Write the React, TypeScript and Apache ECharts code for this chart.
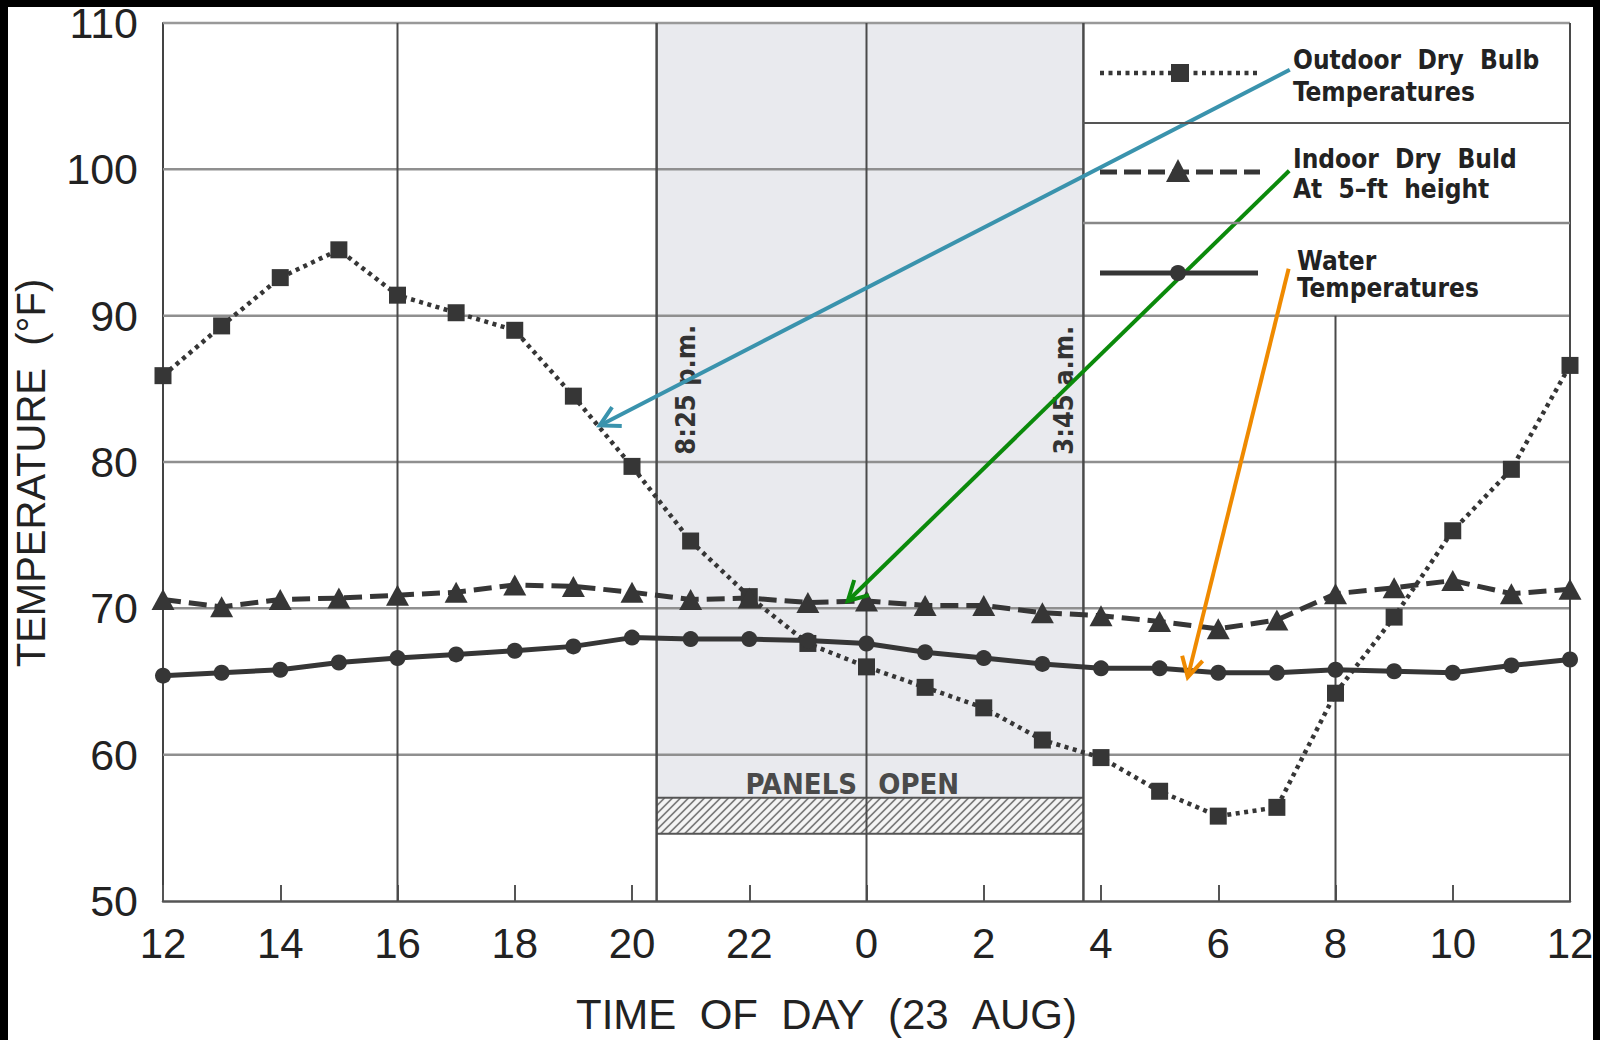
import React, { useEffect, useRef } from 'react';
import * as echarts from 'echarts';

// Hours after 12:00 noon (0 = noon, 12 = midnight, 24 = next noon), 23 AUG
const hoursFromNoon = [0, 1, 2, 3, 4, 5, 6, 7, 8, 9, 10, 11, 12, 13, 14, 15, 16, 17, 18, 19, 20, 21, 22, 23, 24];
const xTickLabels = ['12', '14', '16', '18', '20', '22', '0', '2', '4', '6', '8', '10', '12'];

const outdoorDryBulb = [85.9, 89.3, 92.6, 94.5, 91.4, 90.2, 89.0, 84.5, 79.7, 74.6, 70.8, 67.6, 66.0, 64.6, 63.2, 61.0, 59.8, 57.5, 55.8, 56.4, 64.2, 69.4, 75.3, 79.5, 86.6];
const indoorDryBulb = [70.6, 70.1, 70.6, 70.7, 70.9, 71.1, 71.6, 71.5, 71.1, 70.6, 70.7, 70.4, 70.5, 70.2, 70.2, 69.7, 69.5, 69.1, 68.6, 69.2, 71.0, 71.4, 71.9, 71.0, 71.3];
const waterTemp = [65.4, 65.6, 65.8, 66.3, 66.6, 66.85, 67.1, 67.4, 68.0, 67.9, 67.9, 67.8, 67.6, 67.0, 66.6, 66.2, 65.9, 65.9, 65.6, 65.6, 65.8, 65.7, 65.6, 66.1, 66.5];

// Panels open window: 8:25 p.m. -> 3:45 a.m. (hours after noon)
const panelsOpenWindow = [8.42, 15.7];
const panelsBar = [54.6, 57.05]; // °F band of the hatched bar
const panelLabels = ['8:25 p.m.', '3:45 a.m.'];

const yGridValues = [60, 70, 80, 90, 100, 110];
const fullVerticalGrid = [4, 12, 24];
const partialVerticalGrid = [20];

// Annotation arrows (tail in legend -> tip on curve), data coordinates
const arrowTails = [[19.22, 106.8], [19.21, 99.9], [19.2, 93.2]];
const arrowTips = [[7.45, 82.5], [11.68, 70.5], [17.48, 65.3]];
const arrowColors = ['#3a93ad', '#0b8a0b', '#ef8a00'];

const INK = '#363636';
const TXT = '#222';
const LEG_FONT = "'DejaVu Sans Condensed', 'Liberation Sans Narrow', 'DejaVu Sans', sans-serif";

function lineSeries(name: string, vals: number[], symbol: string, symbolSize: any, type: any, width: number) {
  return {
    type: 'line',
    name,
    data: hoursFromNoon.map((h, i) => [h, vals[i]]),
    symbol,
    symbolSize,
    showSymbol: true,
    z: 3,
    silent: true,
    lineStyle: { color: INK, width, type, cap: 'butt' },
    itemStyle: { color: INK },
  };
}

export default function App() {
  const ref = useRef<HTMLDivElement>(null);
  useEffect(() => {
    const chart = echarts.init(ref.current!, null, { renderer: 'svg' });

    const decor = {
      type: 'custom',
      z: 1,
      silent: true,
      clip: false,
      data: [[0, 50]],
      encode: { x: 0, y: 1 },
      renderItem: (_p: any, api: any) => {
        const c = (x: number, y: number) => api.coord([x, y]);
        const ch: any[] = [];
        const [ps, pe] = panelsOpenWindow;
        // shaded region
        const a = c(ps, 110);
        const b = c(pe, panelsBar[1]);
        ch.push({ type: 'rect', shape: { x: a[0], y: a[1], width: b[0] - a[0], height: b[1] - a[1] }, style: { fill: '#e9eaee' } });
        // hatched bar
        const h0 = c(ps, panelsBar[1]);
        const h1 = c(pe, panelsBar[0]);
        const x0 = h0[0], yT = h0[1], x1 = h1[0], yB = h1[1];
        ch.push({ type: 'rect', shape: { x: x0, y: yT, width: x1 - x0, height: yB - yT }, style: { fill: '#f4f4f4' } });
        for (let cc = x0 + yT; cc <= x1 + yB; cc += 8) {
          const xs = Math.max(x0, cc - yB);
          const xe = Math.min(x1, cc - yT);
          if (xe > xs) {
            ch.push({ type: 'line', shape: { x1: xs, y1: cc - xs, x2: xe, y2: cc - xe }, style: { stroke: '#7a7a7a', lineWidth: 1.6 } });
          }
        }
        ch.push({ type: 'line', shape: { x1: x0, y1: yT, x2: x1, y2: yT }, style: { stroke: '#555', lineWidth: 2 } });
        ch.push({ type: 'line', shape: { x1: x0, y1: yB, x2: x1, y2: yB }, style: { stroke: '#555', lineWidth: 2 } });
        // horizontal grid
        yGridValues.forEach((v) => {
          const endX = v > 90 && v < 110 ? pe : 24;
          const p = c(0, v), q = c(endX, v);
          ch.push({ type: 'line', shape: { x1: p[0], y1: p[1], x2: q[0], y2: q[1] }, style: { stroke: v === 110 ? '#999' : '#8f8f8f', lineWidth: 2.5 } });
        });
        // vertical grid
        fullVerticalGrid.forEach((h) => {
          const p = c(h, 50), q = c(h, 110);
          ch.push({ type: 'line', shape: { x1: p[0], y1: p[1], x2: q[0], y2: q[1] }, style: { stroke: '#4a4a4a', lineWidth: 2 } });
        });
        partialVerticalGrid.forEach((h) => {
          const p = c(h, 50), q = c(h, 90);
          ch.push({ type: 'line', shape: { x1: p[0], y1: p[1], x2: q[0], y2: q[1] }, style: { stroke: '#4a4a4a', lineWidth: 2 } });
        });
        [ps, pe].forEach((h) => {
          const p = c(h, 50), q = c(h, 110);
          ch.push({ type: 'line', shape: { x1: p[0], y1: p[1], x2: q[0], y2: q[1] }, style: { stroke: '#4a4a4a', lineWidth: 2.5 } });
        });
        // rotated time labels
        const t1 = c(ps + 0.5, 80.5);
        const t2 = c(pe - 0.34, 80.5);
        [[t1, panelLabels[0]], [t2, panelLabels[1]]].forEach(([pt, txt]: any) => {
          ch.push({
            type: 'text', x: pt[0], y: pt[1], rotation: Math.PI / 2,
            style: { x: 0, y: 0, text: txt, fill: '#333', font: `bold 27px ${LEG_FONT}`, textAlign: 'left', align: 'left', textVerticalAlign: 'middle', verticalAlign: 'middle' },
          });
        });
        // PANELS OPEN
        const pl = c(11.84, 58.0), po = c(12.2, 58.0);
        const pf = `bold 29px 'Liberation Sans Narrow', 'DejaVu Sans Condensed', sans-serif`;
        ch.push({ type: 'text', x: pl[0], y: pl[1], style: { x: 0, y: 0, text: 'PANELS', fill: '#4a4a4a', font: pf, textAlign: 'right', align: 'right', textVerticalAlign: 'middle', verticalAlign: 'middle' } });
        ch.push({ type: 'text', x: po[0], y: po[1], style: { x: 0, y: 0, text: 'OPEN', fill: '#4a4a4a', font: pf, textAlign: 'left', align: 'left', textVerticalAlign: 'middle', verticalAlign: 'middle' } });
        return { type: 'group', children: ch };
      },
    };

    const arrows = {
      type: 'custom',
      z: 20,
      silent: true,
      clip: false,
      data: arrowTails.map((t, i) => [t[0], t[1], arrowTips[i][0], arrowTips[i][1], i]),
      encode: { x: [0, 2], y: [1, 3] },
      renderItem: (_p: any, api: any) => {
        const p1 = api.coord([api.value(0), api.value(1)]);
        const p2 = api.coord([api.value(2), api.value(3)]);
        const col = arrowColors[api.value(4)];
        const ang = Math.atan2(p1[1] - p2[1], p1[0] - p2[0]);
        const L = 22, spread = 0.5;
        const a1 = [p2[0] + L * Math.cos(ang + spread), p2[1] + L * Math.sin(ang + spread)];
        const a2 = [p2[0] + L * Math.cos(ang - spread), p2[1] + L * Math.sin(ang - spread)];
        return {
          type: 'group',
          children: [
            { type: 'line', shape: { x1: p1[0], y1: p1[1], x2: p2[0], y2: p2[1] }, style: { stroke: col, lineWidth: 4 } },
            { type: 'polyline', shape: { points: [a1, p2, a2] }, style: { stroke: col, lineWidth: 4, fill: null, lineJoin: 'miter' } },
          ],
        };
      },
    };

    const legendFont = `bold 26px ${LEG_FONT}`;
    const legText = (x: number, y: number, text: string) => ({
      type: 'text', x, y, z: 50,
      style: { text, fill: TXT, font: legendFont, textAlign: 'left', textVerticalAlign: 'middle' },
    });

    const graphic = [
      // legend separators
      { type: 'line', z: 50, shape: { x1: 1083, y1: 123, x2: 1570, y2: 123 }, style: { stroke: '#555', lineWidth: 2 } },
      { type: 'line', z: 50, shape: { x1: 1083, y1: 223, x2: 1570, y2: 223 }, style: { stroke: '#888', lineWidth: 2.5 } },
      // legend symbols
      { type: 'line', z: 50, shape: { x1: 1100, y1: 73, x2: 1260, y2: 73 }, style: { stroke: INK, lineWidth: 4.5, lineDash: [4, 4.5] } },
      { type: 'rect', z: 51, shape: { x: 1171, y: 64, width: 18, height: 18 }, style: { fill: INK } },
      { type: 'line', z: 50, shape: { x1: 1100, y1: 172, x2: 1260, y2: 172 }, style: { stroke: INK, lineWidth: 5, lineDash: [17, 7] } },
      { type: 'polygon', z: 51, shape: { points: [[1178, 159], [1166, 182], [1190, 182]] }, style: { fill: INK } },
      { type: 'line', z: 50, shape: { x1: 1100, y1: 273, x2: 1258, y2: 273 }, style: { stroke: INK, lineWidth: 5 } },
      { type: 'circle', z: 51, shape: { cx: 1178, cy: 273, r: 8 }, style: { fill: INK } },
      legText(1293, 60, 'Outdoor  Dry  Bulb'),
      legText(1293, 92, 'Temperatures'),
      legText(1293, 159, 'Indoor  Dry  Buld'),
      legText(1293, 189, 'At  5–ft  height'),
      legText(1297, 261, 'Water'),
      legText(1297, 288, 'Temperatures'),
      // scan frame
      { type: 'rect', z: 100, shape: { x: 0, y: 0, width: 1600, height: 7 }, style: { fill: '#000' } },
      { type: 'rect', z: 100, shape: { x: 0, y: 0, width: 8, height: 1040 }, style: { fill: '#000' } },
      { type: 'rect', z: 100, shape: { x: 1593, y: 0, width: 7, height: 1040 }, style: { fill: '#000' } },
    ];

    chart.setOption({
      animation: false,
      backgroundColor: '#fff',
      grid: { left: 163, right: 30, top: 23, bottom: 129, containLabel: false },
      xAxis: {
        type: 'value',
        min: 0,
        max: 24,
        interval: 2,
        name: 'TIME\u00a0\u00a0OF\u00a0\u00a0DAY\u00a0\u00a0(23\u00a0\u00a0AUG)',
        nameLocation: 'middle',
        nameGap: 92,
        nameTextStyle: { fontSize: 42, color: TXT, fontFamily: 'Liberation Sans', padding: [0, 80, 0, 0] },
        axisLine: { show: true, lineStyle: { color: '#555', width: 2.5 } },
        axisTick: { show: true, inside: true, length: 16, lineStyle: { color: '#555', width: 2 } },
        axisLabel: {
          fontSize: 42, color: TXT, fontFamily: 'Liberation Sans', margin: 21,
          formatter: (v: number) => xTickLabels[Math.round(v / 2)] ?? '',
        },
        splitLine: { show: false },
      },
      yAxis: {
        type: 'value',
        min: 50,
        max: 110,
        interval: 10,
        name: 'TEMPERATURE\u00a0\u00a0(°F)',
        nameLocation: 'middle',
        nameRotate: 90,
        nameGap: 112,
        nameTextStyle: { fontSize: 40, color: TXT, fontFamily: 'Liberation Sans', padding: [0, 22, 0, 0] },
        axisLine: { show: true, lineStyle: { color: '#444', width: 2 } },
        axisTick: { show: false },
        axisLabel: { fontSize: 43, color: TXT, fontFamily: 'Liberation Sans', margin: 25 },
        splitLine: { show: false },
      },
      graphic,
      series: [
        decor,
        lineSeries('Outdoor Dry Bulb Temperatures', outdoorDryBulb, 'rect', 17, [4, 4.5], 4.5),
        lineSeries('Indoor Dry Buld At 5-ft height', indoorDryBulb, 'triangle', [23, 21], [18, 8], 5),
        lineSeries('Water Temperatures', waterTemp, 'circle', 16, 'solid', 5),
        arrows,
      ],
    });
    return () => chart.dispose();
  }, []);
  return <div ref={ref} style={{ position: 'fixed', left: 0, top: 0, width: 1600, height: 1040, background: '#fff' }} />;
}
